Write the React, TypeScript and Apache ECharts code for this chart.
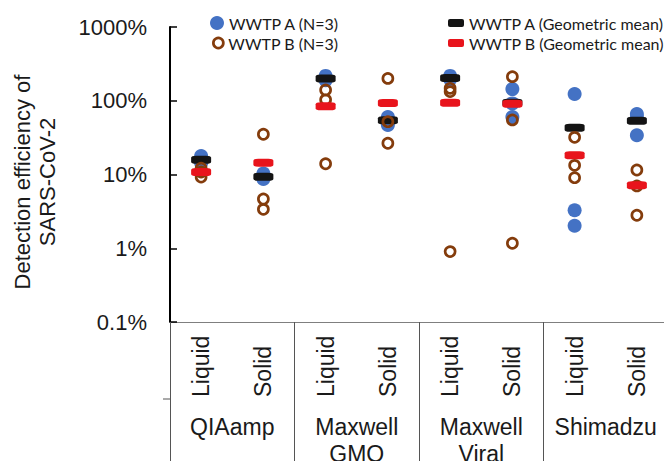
import React, { useEffect, useRef } from "react";
import * as echarts from "echarts";

// ---- data ----
const groups = ["QIAamp", "Maxwell\nGMO", "Maxwell\nViral", "Shimadzu"];
const fractions = ["Liquid", "Solid"];
const categories = groups.flatMap((g) => fractions.map((f) => `${g}|${f}`));

// detection efficiency (%) per category, WWTP A (3 samples)
const wwtpA = [
  [17.8, 15.5, 14.3],
  [10.3, 9.5, 8.7],
  [217, 205, 190],
  [60, 53, 47],
  [217, 205, 195],
  [144, 92, 60],
  [123.5, 3.27, 2.02],
  [66, 60, 34],
];
// WWTP B (3 samples)
const wwtpB = [
  [12.2, 10.8, 9.25],
  [35.1, 4.65, 3.37],
  [140, 103, 14],
  [201, 52, 26.5],
  [147.5, 133, 0.9],
  [212, 55, 1.17],
  [31.9, 13.3, 9.05],
  [11.5, 7.0, 2.8],
];
const gmA = [15.8, 9.33, 201, 54.3, 203, 94, 43, 53.7];
const gmB = [10.8, 14.45, 84, 93.2, 94.2, 91.2, 18.2, 7.13];
const yTicks = [0.1, 1, 10, 100, 1000];

const BLUE = "#4472C4";
const BROWN = "#843C0C";
const BLACK = "#141414";
const RED = "#E8141C";
const GRAY = "#7f7f7f";
const TXT = "#1a1a1a";
const FONT = "'Liberation Sans', Arial, sans-serif";
const LFONT = "Lato, 'Noto Sans', sans-serif";

export default function App() {
  const ref = useRef<HTMLDivElement>(null);
  useEffect(() => {
    const chart = echarts.init(ref.current!, undefined, { renderer: "svg" });
    const legendBase = {
      orient: "vertical",
      padding: 0,
      itemGap: 6,
      textStyle: { fontFamily: LFONT, fontSize: 16, color: TXT, lineHeight: 14 },
      selectedMode: false,
    };
    chart.setOption({
      animation: false,
      grid: {
        left: 170,
        top: 27,
        width: 498,
        height: 295,
        containLabel: false,
        outerBoundsMode: "none",
      },
      legend: [
        {
          ...legendBase,
          left: 210,
          top: 15,
          itemWidth: 14,
          itemHeight: 14,
          data: [{ name: "WWTP A (N=3)", icon: "circle" }],
        },
        {
          ...legendBase,
          left: 212,
          top: 35,
          itemWidth: 10,
          itemHeight: 10,
          data: [
            {
              name: "WWTP B (N=3)",
              icon: "circle",
              itemStyle: { color: "rgba(0,0,0,0)", borderColor: BROWN, borderWidth: 2.7 },
            },
          ],
        },
        {
          ...legendBase,
          left: 448,
          top: 15,
          itemWidth: 16,
          itemHeight: 8,
          itemTextGap: 2,
          data: [{ name: "WWTP A (Geometric mean)", icon: "roundRect" }],
        },
        {
          ...legendBase,
          left: 448,
          top: 35,
          itemWidth: 16,
          itemHeight: 8,
          itemTextGap: 2,
          data: [{ name: "WWTP B (Geometric mean)", icon: "roundRect" }],
        },
      ],
      xAxis: [
        {
          type: "category",
          data: categories,
          position: "bottom",
          boundaryGap: true,
          axisLine: { lineStyle: { color: GRAY, width: 1 } },
          axisTick: { inside: true, alignWithLabel: true, length: 5, lineStyle: { color: TXT } },
          axisLabel: {
            rotate: 90,
            interval: 0,
            formatter: (v: string) => v.split("|")[1],
            fontFamily: FONT,
            fontSize: 23,
            color: TXT,
            margin: 75,
            align: "left",
            verticalAlign: "middle",
          },
          splitLine: { show: false },
        },
        {
          type: "category",
          data: groups,
          position: "bottom",
          boundaryGap: true,
          axisLine: { show: false },
          axisTick: { show: true, length: 139, lineStyle: { color: "#555", width: 1 } },
          axisLabel: {
            interval: 0,
            fontFamily: FONT,
            fontSize: 23,
            lineHeight: 27,
            color: TXT,
            margin: 91,
          },
          splitLine: { show: false },
        },
      ],
      yAxis: {
        type: "log",
        logBase: 10,
        min: yTicks[0],
        max: yTicks[yTicks.length - 1],
        axisLine: { show: true, lineStyle: { color: "#000", width: 2 } },
        axisTick: { show: true, inside: true, length: 7, lineStyle: { color: "#000", width: 1.5 } },
        axisLabel: {
          fontFamily: FONT,
          fontSize: 22,
          color: TXT,
          margin: 23,
          padding: [5, 0, 0, 0],
          formatter: (v: number) => `${+Number(v).toPrecision(4)}%`,
        },
        splitLine: { show: false },
      },
      graphic: [
        {
          type: "text",
          x: 35,
          y: 182,
          rotation: Math.PI / 2,
          style: {
            text: "Detection efficiency of\nSARS-CoV-2",
            fontFamily: FONT,
            fontSize: 22,
            lineHeight: 25,
            fill: TXT,
            align: "center",
            verticalAlign: "middle",
          },
        },
        {
          type: "line",
          shape: { x1: 163, y1: 399, x2: 170, y2: 399 },
          style: { stroke: "#555", lineWidth: 1 },
        },
      ],
      series: [
        {
          name: "WWTP A (N=3)",
          type: "scatter",
          symbol: "circle",
          symbolSize: 14,
          itemStyle: { color: BLUE, opacity: 1 },
          z: 2,
          data: wwtpA.flatMap((vals, i) => vals.map((v) => [i, v])),
        },
        {
          name: "WWTP A (Geometric mean)",
          type: "scatter",
          symbol: "roundRect",
          symbolSize: [20, 8],
          itemStyle: { color: BLACK, opacity: 1 },
          z: 3,
          data: gmA.map((v, i) => [i, v]),
        },
        {
          name: "WWTP B (N=3)",
          type: "scatter",
          symbol: "circle",
          symbolSize: 10,
          itemStyle: { color: "rgba(0,0,0,0)", borderColor: BROWN, borderWidth: 2.7, opacity: 1 },
          z: 4,
          data: wwtpB.flatMap((vals, i) => vals.map((v) => [i, v])),
        },
        {
          name: "WWTP B (Geometric mean)",
          type: "scatter",
          symbol: "roundRect",
          symbolSize: [20, 8],
          itemStyle: { color: RED, opacity: 1 },
          z: 5,
          data: gmB.map((v, i) => [i, v]),
        },
      ],
    });
    return () => chart.dispose();
  }, []);
  return (
    <div
      ref={ref}
      style={{ position: "fixed", left: 0, top: 0, width: 664, height: 461, background: "#fff" }}
    />
  );
}
